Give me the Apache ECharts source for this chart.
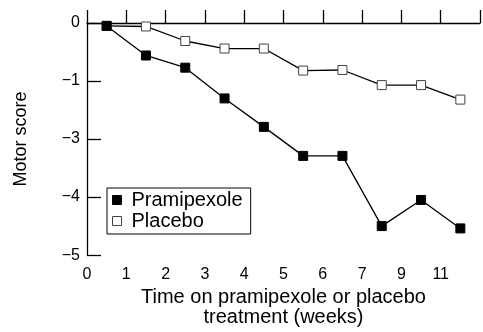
<!DOCTYPE html>
<html>
<head>
<meta charset="utf-8">
<script src="https://cdn.jsdelivr.net/npm/echarts@6/dist/echarts.min.js"></script>
<style>html,body{margin:0;padding:0;background:#fff;}#c{width:483px;height:332px;}</style>
</head>
<body>
<div id="c"></div>
<script>
// Tick labels as printed on the reference axes
const xTickLabels = ['0','1','2','3','4','5','6','7','9','11'];
const yTickLabels = ['0','\u22121','\u22123','\u22124','\u22125'];
// Point positions along the x axis (between printed ticks)
const weekPos = [0.5,1.5,2.5,3.5,4.5,5.5,6.5,7.5,8.5,9.5];
// Values in drawn-axis units (0 = top tick, -4 = bottom tick)
const pramipexole = [-0.05,-0.56,-0.77,-1.30,-1.79,-2.29,-2.29,-3.50,-3.05,-3.54];
const placebo = [-0.05,-0.06,-0.31,-0.44,-0.44,-0.82,-0.81,-1.07,-1.07,-1.32];

const font = 'Liberation Sans, Arial, sans-serif';
const chart = echarts.init(document.getElementById('c'), null, {renderer:'canvas'});
const pair = (ys) => weekPos.map((x,i)=>[x, ys[i]]);
chart.setOption({
  animation:false,
  grid:{left:87, top:23, width:398.5, height:237, containLabel:false},
  xAxis:{
    type:'value', min:0, max:10, interval:1,
    name:'Time on pramipexole or placebo\ntreatment (weeks)',
    nameLocation:'middle', nameGap:31,
    nameTextStyle:{fontFamily:font, fontSize:20, color:'#000', lineHeight:20},
    axisLine:{lineStyle:{color:'#000', width:1.3}},
    axisTick:{inside:true, length:13, lineStyle:{color:'#000', width:1.3}},
    axisLabel:{margin:11, fontFamily:font, fontSize:16, color:'#000',
      formatter:(v)=>{const i=Math.round(v); return i<xTickLabels.length? xTickLabels[i]:'';}},
    splitLine:{show:false}
  },
  yAxis:{
    type:'value', min:-4, max:0, interval:1,
    name:'Motor score', nameLocation:'middle', nameGap:57,
    nameTextStyle:{fontFamily:font, fontSize:18, color:'#000'},
    axisLine:{show:true, lineStyle:{color:'#000', width:1.3}},
    axisTick:{show:true, inside:true, length:14, lineStyle:{color:'#000', width:1.3}},
    axisLabel:{margin:7, fontFamily:font, fontSize:16, color:'#000',
      formatter:(v)=>yTickLabels[Math.round(-v)]},
    splitLine:{show:false}
  },
  legend:{
    orient:'vertical', left:107, top:188,
    padding:[2,8,3,5], itemGap:1, itemWidth:9, itemHeight:9,
    borderColor:'#000', borderWidth:1, backgroundColor:'#fff',
    textStyle:{fontFamily:font, fontSize:20, color:'#000', lineHeight:20, padding:[0,0,0,5]},
    data:[
      {name:'Pramipexole', icon:'rect', itemStyle:{color:'#000', borderColor:'#000', borderWidth:1}},
      {name:'Placebo', icon:'rect', itemStyle:{color:'#fff', borderColor:'#444', borderWidth:1}}
    ]
  },
  series:[
    {name:'Placebo', type:'line', data:pair(placebo), symbol:'rect', symbolSize:9,
     lineStyle:{color:'#000', width:1.3}, itemStyle:{color:'#fff', borderColor:'#444', borderWidth:1}, z:2},
    {name:'Pramipexole', type:'line', data:pair(pramipexole), symbol:'rect', symbolSize:9,
     lineStyle:{color:'#000', width:1.3}, itemStyle:{color:'#000', borderColor:'#000', borderWidth:1}, z:3}
  ]
});
</script>
</body>
</html>
